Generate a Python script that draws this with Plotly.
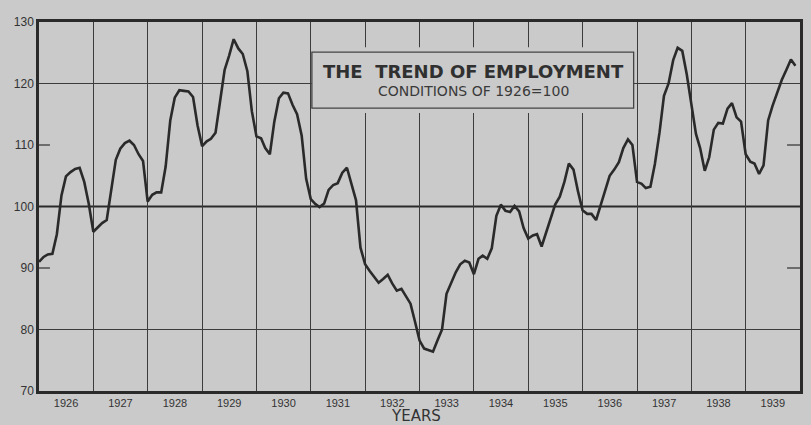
import plotly.graph_objects as go
import pandas as pd

# Monthly employment index, 1926 = 100 (Jan 1926 .. Dec 1939)
months = pd.date_range("1926-01-01", periods=168, freq="MS")
values = [
    # 1926
    91.0, 91.8, 92.2, 92.3, 95.5, 101.8, 104.9, 105.6, 106.1, 106.3, 104.0, 100.5,
    # 1927
    95.9, 96.6, 97.3, 97.8, 102.5, 107.6, 109.4, 110.3, 110.7, 110.0, 108.5, 107.4,
    # 1928
    100.8, 101.9, 102.3, 102.3, 106.5, 114.0, 117.7, 118.9, 118.8, 118.7, 117.8, 113.2,
    # 1929
    109.8, 110.6, 111.0, 112.0, 117.0, 122.2, 124.5, 127.2, 125.7, 124.8, 122.0, 115.5,
    # 1930
    111.4, 111.1, 109.5, 108.5, 113.8, 117.6, 118.5, 118.4, 116.5, 115.0, 111.5, 104.5,
    # 1931
    101.2, 100.4, 99.9, 100.5, 102.7, 103.5, 103.8, 105.5, 106.3, 103.5, 101.0, 93.3,
    # 1932
    90.6, 89.5, 88.5, 87.6, 88.2, 88.9, 87.5, 86.3, 86.6, 85.5, 84.2, 81.3,
    # 1933
    78.2, 76.9, 76.6, 76.4, 78.2, 80.0, 85.8, 87.6, 89.3, 90.6, 91.2, 90.9,
    # 1934
    89.0, 91.5, 92.0, 91.5, 93.2, 98.5, 100.3, 99.3, 99.1, 100.1, 99.2, 96.5,
    # 1935
    94.8, 95.3, 95.5, 93.5, 95.8, 98.2, 100.3, 101.6, 104.0, 107.0, 106.0, 102.5,
    # 1936
    99.4, 98.8, 98.8, 97.8, 100.3, 102.8, 105.0, 106.0, 107.2, 109.5, 110.9, 110.0,
    # 1937
    104.0, 103.7, 103.0, 103.2, 106.9, 112.0, 118.0, 120.0, 123.8, 125.8, 125.3, 121.5,
    # 1938
    116.5, 111.8, 109.5, 105.8, 108.0, 112.5, 113.6, 113.5, 115.9, 116.8, 114.5, 113.8,
    # 1939
    108.5, 107.3, 107.0, 105.3, 106.7, 114.0, 116.4, 118.5, 120.6, 122.2, 123.9, 122.9,
]
year_labels = [str(y) for y in range(1926, 1940)]
year_centers = [f"{y}-07-02" for y in range(1926, 1940)]
y_ticks = [70, 80, 90, 100, 110, 120, 130]

BG = "#cacaca"
INK = "#2a2a2a"
GRID = "#3c3c3c"

fig = go.Figure()
fig.add_trace(go.Scatter(
    x=months, y=values, mode="lines",
    line=dict(color=INK, width=2.6),
    hoverinfo="skip", showlegend=False,
))

fig.update_layout(
    width=811, height=425,
    margin=dict(l=39, r=8, t=22, b=34),
    paper_bgcolor=BG, plot_bgcolor=BG,
    font=dict(family="Liberation Sans", color=INK),
    xaxis=dict(
        range=["1926-01-01", "1940-01-01"],
        tickmode="array", tickvals=year_centers, ticktext=year_labels,
        tickfont=dict(size=11, family="Liberation Sans", color="#333"),
        ticks="", showgrid=False, zeroline=False,
        showline=True, linewidth=2.5, linecolor=INK, mirror=True,
        minor=dict(tickmode="array",
                   tickvals=[f"{y}-01-01" for y in range(1927, 1940)],
                   showgrid=True, gridcolor=GRID, gridwidth=1.2, ticks=""),
    ),
    yaxis=dict(
        range=[70, 130],
        tickmode="array", tickvals=y_ticks, ticktext=[str(v) for v in y_ticks],
        tickfont=dict(size=12, family="Liberation Sans", color="#333"),
        ticks="", showgrid=False, zeroline=False,
        showline=True, linewidth=2.5, linecolor=INK, mirror=True,
        minor=dict(tickmode="array", tickvals=[80, 120],
                   showgrid=True, gridcolor=GRID, gridwidth=1.2, ticks=""),
    ),
)

shapes = []
# heavier 100 reference line
shapes.append(dict(type="line", xref="paper", x0=0, x1=1, yref="y", y0=100, y1=100,
                   line=dict(color=INK, width=1.8), layer="below"))
# small inward ticks at 90 and 110, both sides
for yv in (90, 110):
    shapes.append(dict(type="line", xref="paper", x0=0, x1=0.0144, yref="y", y0=yv, y1=yv,
                       line=dict(color=GRID, width=1.3)))
    shapes.append(dict(type="line", xref="paper", x0=0.983, x1=1, yref="y", y0=yv, y1=yv,
                       line=dict(color=GRID, width=1.3)))
# title box: blank out the grid, then draw the frame
shapes.append(dict(type="rect", xref="paper", x0=0.3586, x1=0.7814, yref="y", y0=115.2, y1=125.9,
                   fillcolor=BG, line=dict(width=0), layer="above"))
shapes.append(dict(type="rect", xref="paper", x0=0.3586, x1=0.7814, yref="y", y0=116.0, y1=125.1,
                   fillcolor="rgba(0,0,0,0)", line=dict(color="#444", width=1.3), layer="above"))
fig.update_layout(shapes=shapes)

fig.add_annotation(xref="paper", yref="y", x=0.5705, y=121.95, showarrow=False,
                   text="THE  TREND OF EMPLOYMENT",
                   font=dict(family="DejaVu Sans", size=18, color="#303030", weight="bold"))
fig.add_annotation(xref="paper", yref="y", x=0.5705, y=118.8, showarrow=False,
                   text="CONDITIONS OF 1926=100",
                   font=dict(family="DejaVu Sans", size=14, color="#3a3a3a"))
fig.add_annotation(xref="paper", yref="paper", x=0.496, y=-0.069, yanchor="middle", showarrow=False,
                   text="YEARS", font=dict(family="DejaVu Sans", size=15, color="#333"))

fig.write_html("out.html", config={"displayModeBar": False})

# remove the browser's default page margin so the figure sits at the window origin
with open("out.html", "r", encoding="utf-8") as f:
    html = f.read()
html = html.replace("<head>", "<head><style>html,body{margin:0;padding:0;background:%s;}</style>" % BG, 1)
with open("out.html", "w", encoding="utf-8") as f:
    f.write(html)
